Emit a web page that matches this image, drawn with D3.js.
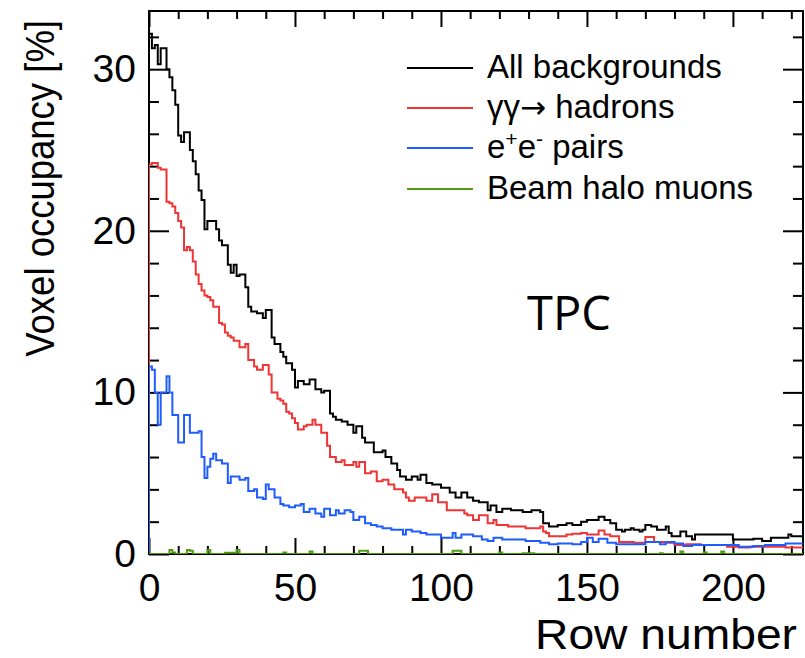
<!DOCTYPE html>
<html><head><meta charset="utf-8">
<script src="https://cdn.jsdelivr.net/npm/d3@7"></script>
<style>
body{margin:0;background:#fff}
svg text{font-family:"Liberation Sans",Arial,Helvetica,sans-serif;fill:#000}
</style>
</head><body>
<svg id="c" width="805" height="658"></svg>
<script>
// ---------- DATA ----------
const seriesNames = ["All backgrounds", "γγ→ hadrons", "e+e- pairs", "Beam halo muons"];
const xTickLabels = [0, 50, 100, 150, 200];
const yTickLabels = [0, 10, 20, 30];
const xTitle = "Row number";
const yTitle = "Voxel occupancy [%]";
const detectorLabel = "TPC";

// occupancy per TPC row (rows 0..223), in %
const allBackgrounds = [
32.2,31.3,31.5,30.3,31.3,31.3,30.0,29.5,28.7,27.8,
25.9,25.5,26.1,26.1,25.0,24.3,23.5,22.5,21.9,20.1,
20.6,20.6,20.6,20.1,19.4,19.1,19.1,17.9,17.4,17.9,
17.2,17.3,17.3,16.5,15.3,15.0,15.0,14.9,14.9,14.6,
15.1,15.1,13.4,13.0,13.0,12.5,12.2,11.8,11.8,11.4,
10.3,10.7,10.7,10.5,10.5,10.8,10.8,10.2,10.2,10.0,
10.1,10.1,8.7,8.5,8.3,8.3,8.2,8.2,8.0,8.0,
7.5,7.9,7.9,7.2,6.9,6.9,6.9,6.3,6.3,6.3,
6.4,6.0,6.0,5.6,5.6,5.2,4.8,4.8,4.6,4.6,
4.8,4.8,4.6,4.9,4.9,4.4,4.4,4.3,4.3,4.3,
4.1,4.1,4.1,3.8,3.8,3.5,3.5,3.8,3.8,3.5,
3.5,3.3,3.3,3.2,3.2,3.2,2.7,3.0,3.0,2.6,
2.6,2.8,2.8,2.8,2.7,2.7,2.7,2.7,2.6,2.6,
2.6,2.7,2.7,2.7,2.6,1.9,1.9,1.7,1.7,1.7,
1.8,1.8,1.8,1.9,1.9,1.8,1.8,1.8,2.0,2.0,
2.1,2.1,2.1,2.1,2.3,2.3,2.1,2.1,1.9,1.9,
1.5,1.5,1.4,1.5,1.5,1.6,1.5,1.5,1.4,1.5,
1.8,1.8,1.7,1.7,1.5,1.5,1.5,1.7,1.3,1.1,
1.1,1.1,1.4,1.4,1.1,1.1,0.9,1.2,1.2,1.2,
1.2,1.2,1.2,1.2,1.2,1.2,1.2,1.2,1.2,1.2,
0.9,0.9,0.9,0.9,0.9,0.9,0.9,0.95,0.95,0.95,
0.8,0.8,0.8,1.0,1.0,1.0,1.0,1.0,1.0,1.2,
1.1,1.1,1.1,1.1];

const gammaGammaHadrons = [
24.1,24.2,24.2,23.9,23.8,23.8,21.8,21.7,21.5,21.1,
20.6,20.2,18.8,19.0,18.8,18.1,17.3,16.7,16.3,16.0,
15.9,15.7,15.3,15.3,14.3,14.2,13.7,13.5,13.4,13.2,
13.2,12.8,12.8,13.0,12.0,12.0,11.6,11.4,11.4,11.7,
11.7,11.1,10.0,10.0,9.6,9.5,9.3,8.8,8.7,8.4,
8.1,7.7,7.7,7.9,8.0,8.0,8.3,8.0,8.0,7.5,
7.5,6.7,6.0,6.0,5.7,5.7,5.8,5.5,5.5,5.5,
5.7,5.4,5.7,5.7,5.0,5.0,5.1,5.1,4.5,4.5,
4.6,4.6,4.3,4.3,4.0,4.0,4.0,3.8,3.5,3.3,
3.3,3.5,3.5,3.5,3.5,3.3,3.3,3.7,3.7,3.2,
3.2,3.2,2.7,2.7,2.7,2.7,2.7,2.7,2.5,2.4,
2.4,2.1,2.1,2.4,2.4,2.4,1.9,1.9,2.1,1.8,
1.8,1.8,1.8,1.7,1.7,1.7,1.7,1.7,1.7,1.6,
1.6,1.6,1.6,1.6,1.7,1.4,1.3,1.1,1.1,1.1,
1.1,1.1,1.1,1.2,1.2,1.25,1.25,1.25,1.3,1.3,
1.2,1.2,1.2,1.2,1.45,1.45,1.2,1.2,1.1,1.1,
1.1,0.75,0.75,0.75,0.75,0.75,0.7,0.7,0.7,0.7,
1.05,1.05,1.05,0.75,0.75,0.75,0.75,0.7,0.7,0.7,
0.55,0.55,0.55,0.55,0.6,0.6,0.6,0.6,0.6,0.55,
0.55,0.55,0.55,0.55,0.55,0.55,0.55,0.55,0.45,0.45,
0.45,0.45,0.4,0.4,0.4,0.4,0.45,0.45,0.45,0.45,
0.45,0.45,0.45,0.45,0.45,0.45,0.45,0.45,0.4,0.4,
0.4,0.4,0.4,0.4];

const eePairs = [
11.6,11.4,10.0,8.0,10.0,10.0,11.0,10.0,8.6,8.6,
6.9,6.9,8.6,8.6,7.5,7.5,7.5,7.6,6.0,4.7,
5.4,5.9,6.2,5.8,5.8,5.6,5.6,4.4,4.8,4.8,
4.8,4.6,4.6,4.7,3.9,3.9,4.0,3.5,3.5,3.4,
4.3,4.0,4.0,3.5,3.5,3.1,3.0,3.0,2.9,2.9,
3.0,3.0,3.1,2.6,2.6,2.8,2.8,2.5,2.5,2.3,
2.8,2.8,2.4,2.4,2.7,2.5,2.5,2.7,2.7,2.6,
2.1,2.1,2.3,2.3,1.9,1.9,1.8,1.8,1.7,1.7,
1.6,1.6,1.6,1.5,1.5,1.5,1.5,1.2,1.5,1.5,
1.4,1.4,1.4,1.3,1.3,1.2,1.2,1.2,1.2,1.2,
1.0,1.0,1.0,1.0,1.3,1.0,1.0,1.2,1.2,1.2,
1.2,1.1,1.1,1.1,0.9,0.9,0.8,0.8,1.0,1.0,
1.0,0.9,0.9,0.9,0.9,0.9,0.9,0.9,0.9,0.8,
0.8,0.8,0.8,0.8,0.7,0.7,0.7,0.6,0.6,0.6,
0.65,0.65,0.65,0.65,0.65,0.6,0.6,0.6,0.75,0.75,
1.0,1.0,0.75,0.75,0.95,0.95,0.95,0.7,0.7,0.7,
0.6,0.6,0.6,0.6,0.6,0.6,0.6,0.6,0.6,0.6,
0.75,0.75,0.75,0.75,0.75,0.6,0.6,0.75,0.75,0.75,
0.65,0.65,0.65,0.5,0.5,0.5,0.55,0.55,0.55,0.55,
0.55,0.55,0.55,0.55,0.55,0.55,0.55,0.55,0.55,0.55,
0.55,0.55,0.45,0.45,0.45,0.45,0.45,0.5,0.5,0.5,
0.5,0.55,0.55,0.55,0.55,0.55,0.55,0.55,0.65,0.65,
0.65,0.65,0.65,0.65];

const beamHaloMuons = [
0,0,0,0,0,0,0,0.25,0.1,0,
0,0,0,0.25,0.2,0,0,0,0,0,
0.25,0,0,0,0,0,0.08,0.08,0.08,0.08,
0.25,0,0,0,0,0,0,0,0,0,
0,0,0,0,0,0,0.1,0,0,0,
0,0,0,0,0,0.15,0,0,0,0,
0,0,0,0,0,0,0,0,0,0,
0,0,0.2,0.2,0.2,0,0,0,0,0,
0,0,0,0,0,0,0,0,0,0,
0,0,0,0,0,0,0,0,0,0,
0,0,0,0,0.2,0.2,0.2,0,0,0,
0,0,0,0,0,0,0,0,0,0,
0.1,0,0,0,0,0,0,0,0.05,0.05,
0.05,0.05,0,0,0,0,0,0,0,0,
0,0,0,0,0,0,0,0,0,0,
0,0,0,0,0,0,0,0,0,0,
0,0,0,0,0,0,0,0,0,0,
0,0,0,0,0,0.05,0,0,0,0,
0,0,0.15,0,0,0,0,0,0,0,
0.1,0,0,0,0,0,0.15,0,0,0,
0,0,0,0,0,0,0,0,0,0,
0,0,0,0,0,0,0,0,0,0,
0,0,0,0];

// ---------- STYLE ----------
const colors = ["#000000", "#f03434", "#1f5cff", "#4f9a12"];
const svg = d3.select("#c");
const L = 149, R = 803, T = 11, B = 554;
const x = d3.scaleLinear().domain([0, 224]).range([L, R]);
const y = d3.scaleLinear().domain([0, 33.6]).range([B, T]);

const xMinor = d3.range(0, 225, 10).filter(v => v % 50 !== 0);
const yMinor = d3.range(0, 34, 2).filter(v => v % 10 !== 0);

svg.append("defs").append("clipPath").attr("id", "clip")
  .append("rect").attr("x", L).attr("y", T).attr("width", R - L).attr("height", B - T);

function styleAxis(g) {
  g.select(".domain").remove();
  g.selectAll("line").attr("stroke", "#000").attr("stroke-width", 2);
  g.selectAll("text").attr("font-size", 39).attr("font-family", "Liberation Sans, Arial, sans-serif").attr("fill", "#000");
}

// bottom
svg.append("g").attr("transform", `translate(0,${B})`)
  .call(d3.axisBottom(x).tickValues(xTickLabels).tickSizeInner(-16).tickSizeOuter(0).tickPadding(19).tickFormat(d3.format("d")))
  .call(styleAxis);
svg.append("g").attr("transform", `translate(0,${B})`)
  .call(d3.axisBottom(x).tickValues(xMinor).tickSizeInner(-8).tickSizeOuter(0).tickFormat(""))
  .call(styleAxis);
// top
svg.append("g").attr("transform", `translate(0,${T})`)
  .call(d3.axisTop(x).tickValues(xTickLabels).tickSizeInner(-16).tickSizeOuter(0).tickFormat(""))
  .call(styleAxis);
svg.append("g").attr("transform", `translate(0,${T})`)
  .call(d3.axisTop(x).tickValues(xMinor).tickSizeInner(-8).tickSizeOuter(0).tickFormat(""))
  .call(styleAxis);
// left
svg.append("g").attr("transform", `translate(${L},0)`)
  .call(d3.axisLeft(y).tickValues(yTickLabels).tickSizeInner(-20).tickSizeOuter(0).tickPadding(13).tickFormat(d3.format("d")))
  .call(styleAxis);
svg.append("g").attr("transform", `translate(${L},0)`)
  .call(d3.axisLeft(y).tickValues(yMinor).tickSizeInner(-10).tickSizeOuter(0).tickFormat(""))
  .call(styleAxis);
// right
svg.append("g").attr("transform", `translate(${R},0)`)
  .call(d3.axisRight(y).tickValues(yTickLabels).tickSizeInner(-20).tickSizeOuter(0).tickFormat(""))
  .call(styleAxis);
svg.append("g").attr("transform", `translate(${R},0)`)
  .call(d3.axisRight(y).tickValues(yMinor).tickSizeInner(-10).tickSizeOuter(0).tickFormat(""))
  .call(styleAxis);

// frame
svg.append("rect").attr("x", L).attr("y", T).attr("width", R - L).attr("height", B - T)
  .attr("fill", "none").attr("stroke", "#000").attr("stroke-width", 2);

// histograms
const series = [allBackgrounds, gammaGammaHadrons, eePairs, beamHaloMuons];
const line = d3.line().x(d => x(d[0])).y(d => y(d[1])).curve(d3.curveStepAfter);
const hg = svg.append("g").attr("clip-path", "url(#clip)");
series.forEach((vals, k) => {
  const pts = [[0, 0]].concat(vals.map((v, i) => [i, v])).concat([[vals.length, vals[vals.length - 1]]]);
  hg.append("path").attr("d", line(pts)).attr("fill", "none")
    .attr("stroke", colors[k]).attr("stroke-width", 2).attr("stroke-linejoin", "miter");
});

// axis titles
svg.append("text").attr("x", 797).attr("y", 649).attr("text-anchor", "end")
  .attr("font-size", 43).attr("textLength", 262).attr("lengthAdjust", "spacingAndGlyphs").text(xTitle);
svg.append("text").attr("transform", "translate(54,20) rotate(-90) scale(1,1.12)").attr("text-anchor", "end")
  .attr("font-size", 36.5).text(yTitle);

// legend
const legY = [68, 108, 148, 189];
const lg = svg.append("g");
seriesNames.forEach((name, k) => {
  lg.append("line").attr("x1", 407).attr("x2", 473).attr("y1", legY[k]).attr("y2", legY[k])
    .attr("stroke", colors[k]).attr("stroke-width", 2);
  const t = lg.append("text").attr("x", 487).attr("y", legY[k] + 10).attr("font-size", 33);
  if (name === "e+e- pairs") {
    t.append("tspan").text("e");
    t.append("tspan").attr("dy", -12).attr("font-size", 21).text("+");
    t.append("tspan").attr("dy", 12).text("e");
    t.append("tspan").attr("dy", -12).attr("font-size", 21).text("-");
    t.append("tspan").attr("dy", 12).text(" pairs");
  } else if (name === "γγ→ hadrons") {
    t.append("tspan").text("γγ");
    t.append("tspan").style("font-family", "'DejaVu Sans', sans-serif").attr("font-size", 31).text("→");
    t.append("tspan").text(" hadrons");
  } else {
    t.text(name);
  }
});

// detector label
svg.append("text").attr("x", 527).attr("y", 330).attr("font-size", 47)
  .style("font-family", "'Open Sans', sans-serif").text(detectorLabel);
</script>
</body></html>
